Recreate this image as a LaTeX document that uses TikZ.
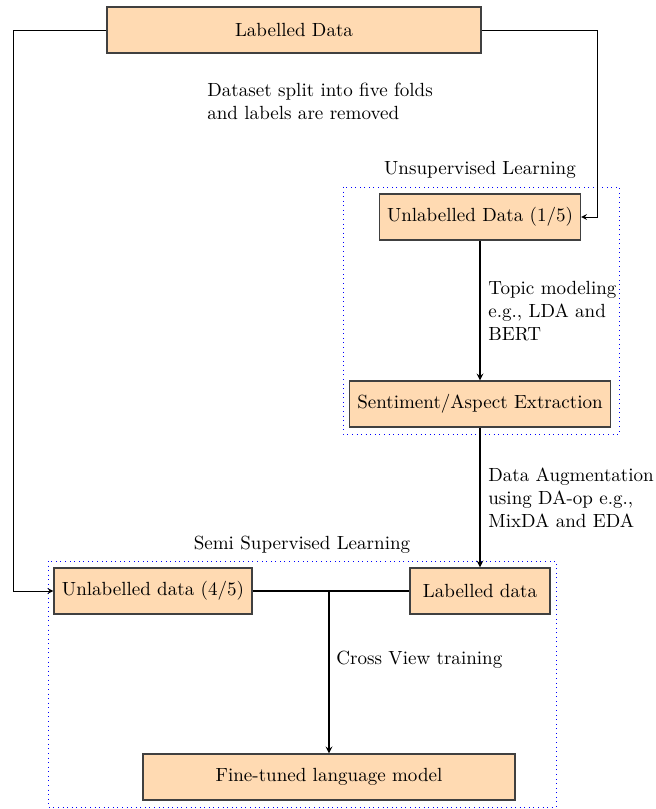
\documentclass[tikz,border=0pt]{standalone}
\usetikzlibrary{calc}
\definecolor{peach}{RGB}{255,218,178}

\begin{document}
\begin{tikzpicture}[x=0.525pt,y=-0.525pt,
	box/.style={draw=black!75,semithick,fill=peach,minimum height=24.15pt,inner sep=3pt},
	note/.style={anchor=west,align=left,inner sep=0pt},
	grp/.style={draw=blue,dotted},
	link/.style={semithick},
	>=stealth]
		\useasboundingbox (0,0) rectangle (655,809);
		% groups
		\draw [grp] (343,187) rectangle (619,434);
		\draw [grp] (48,561) rectangle (556,807);
		\node (unsup) at (480,170) {Unsupervised Learning};
		\node (semi) at (302,545) {Semi Supervised Learning};
		% boxes
		\node [box,minimum width=196.3pt] (ld) at (294,30) {Labelled Data};
		\node [box,minimum width=105.5pt] (ud1) at (480,217) {Unlabelled Data (1/5)};
		\node [box,minimum width=137pt] (sae) at (480,404) {Sentiment/Aspect Extraction};
		\node [box,minimum width=104pt] (ud4) at (153,591) {Unlabelled data (4/5)};
		\node [box,minimum width=73.5pt] (lab) at (480,591) {Labelled data};
		\node [box,minimum width=195.3pt] (ftm) at (329,777) {Fine-tuned language model};
		% notes
		\node [note] (split) at (207,101) {Dataset split into five folds\\and labels are removed};
		\node [note] (topic) at (488,311) {Topic modeling\\e.g., LDA and\\BERT};
		\node [note] (aug) at (488,498) {Data Augmentation\\using DA-op e.g.,\\MixDA and EDA};
		\node [note] (cvt) at (336,660) {Cross View training};
		% connectors
		\coordinate (lturn) at (13,30);
		\coordinate (rturn) at (597,30);
		\coordinate (merge) at (ftm.north |- ud4.east);
		\draw [thin,->] (ld.west) -- (lturn) |- (ud4.west);
		\draw [thin,->] (ld.east) -- (rturn) |- (ud1.east);
		\draw [link,->] (ud1.south) -- (sae.north);
		\draw [link,->] (sae.south) -- (lab.north);
		\draw [link] (ud4.east) -- (lab.west);
		\draw [link,->] (merge) -- (ftm.north);
\end{tikzpicture}
\end{document}
